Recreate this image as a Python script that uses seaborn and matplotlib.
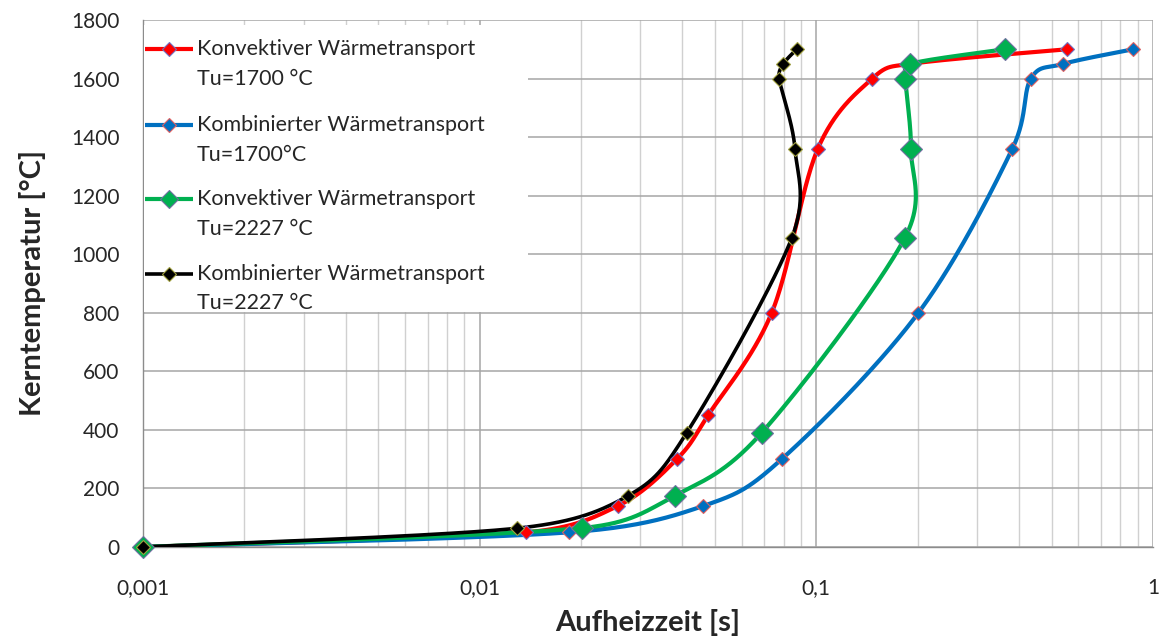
import numpy as np
import pandas as pd
import matplotlib
matplotlib.use("Agg")
import matplotlib.pyplot as plt
import seaborn as sns
from matplotlib.lines import Line2D
from matplotlib.patches import Rectangle
from matplotlib.ticker import FixedLocator, LogLocator, NullFormatter

# ---- data ----
labels_line1 = ["Konvektiver Wärmetransport", "Kombinierter Wärmetransport",
                "Konvektiver Wärmetransport", "Kombinierter Wärmetransport"]
labels_line2 = ["Tu=1700 °C", "Tu=1700°C", "Tu=2227 °C", "Tu=2227 °C"]

red_t = [0.001, 0.0137, 0.0257, 0.0385, 0.0477, 0.0737, 0.101, 0.1466, 0.19, 0.556]
red_T = [0, 50, 140, 300, 450, 800, 1360, 1600, 1650, 1700]

blue_t = [0.001, 0.0184, 0.0461, 0.0789, 0.201, 0.382, 0.434, 0.541, 0.873]
blue_T = [0, 50, 140, 300, 800, 1360, 1600, 1650, 1700]

green_t = [0.001, 0.0202, 0.038, 0.0688, 0.183, 0.191, 0.184, 0.190, 0.363]
green_T = [0, 65, 175, 390, 1055, 1360, 1600, 1650, 1700]

black_t = [0.001, 0.0129, 0.0275, 0.0412, 0.0845, 0.0864, 0.0776, 0.0798, 0.0874]
black_T = [0, 64, 174, 390, 1055, 1360, 1600, 1650, 1700]

x_ticks = [0.001, 0.01, 0.1, 1]
x_ticklabels = ["0,001", "0,01", "0,1", "1"]
y_ticks = list(range(0, 1801, 200))

colors = ["#FF0000", "#0070C0", "#00B050", "#000000"]
edge_colors = ["#7070C0", "#E06060", "#7070A0", "#A0A040"]
line_widths = [3.0, 3.0, 3.0, 2.6]
marker_sizes = [7.5, 7.5, 11.5, 7]

series = [(red_t, red_T), (blue_t, blue_T), (green_t, green_T), (black_t, black_T)]

# ---- figure geometry (pixels) ----
W, H = 1163, 641
AX_L, AX_R, AX_T, AX_B = 143, 1153, 20, 547

# ---- smoothed line (Catmull-Rom style Bezier, control arms clamped) ----
SX = (AX_R - AX_L) / 3.0          # px per decade
SY = (AX_B - AX_T) / 1800.0       # px per degree

def smooth(t, T, n=50):
    P = np.column_stack([np.log10(np.asarray(t, float)) * SX, np.asarray(T, float) * SY])
    m = len(P)
    tang = np.zeros_like(P)
    for i in range(m):
        a = P[max(i - 1, 0)]
        b = P[min(i + 1, m - 1)]
        tang[i] = (b - a) / 6.0
    out = []
    for i in range(m - 1):
        p1, p2 = P[i], P[i + 1]
        L = np.hypot(*(p2 - p1))
        t1, t2 = tang[i].copy(), tang[i + 1].copy()
        for tv in (t1, t2):
            nl = np.hypot(*tv)
            if nl > 0.5 * L:
                tv *= 0.5 * L / nl
        c1 = p1 + t1
        c2 = p2 - t2
        s = np.linspace(0, 1, n)[:, None]
        seg = ((1 - s) ** 3) * p1 + 3 * ((1 - s) ** 2) * s * c1 + 3 * (1 - s) * s ** 2 * c2 + s ** 3 * p2
        out.append(seg if i == 0 else seg[1:])
    out = np.vstack(out)
    return 10 ** (out[:, 0] / SX), out[:, 1] / SY

sns.set_style("white")
plt.rcParams['font.family'] = ['Lato', 'DejaVu Sans']

fig = plt.figure(figsize=(W / 100, H / 100), dpi=100)
ax = fig.add_axes([AX_L / W, (H - AX_B) / H, (AX_R - AX_L) / W, (AX_B - AX_T) / H])

ax.set_xscale("log")
ax.set_xlim(0.001, 1)
ax.set_ylim(0, 1800)

# grid
ax.xaxis.set_major_locator(FixedLocator(x_ticks))
ax.xaxis.set_minor_locator(LogLocator(base=10, subs=np.arange(2, 10)))
ax.xaxis.set_minor_formatter(NullFormatter())
ax.set_xticklabels(x_ticklabels)
ax.set_yticks(y_ticks)
ax.grid(which="major", color="#A6A6A6", linewidth=1.1)
ax.grid(which="minor", axis="x", color="#D0D0D0", linewidth=1.0)
ax.set_axisbelow(True)

for (t, T), c, ec, lw, ms in zip(series, colors, edge_colors, line_widths, marker_sizes):
    xs, ys = smooth(t, T)
    df = pd.DataFrame({"t": xs, "T": ys})
    sns.lineplot(data=df, x="t", y="T", sort=False, color=c, linewidth=lw, ax=ax,
                 estimator=None, zorder=3)
    ax.plot(t, T, linestyle="none", marker="D", markersize=ms, color=c,
            markeredgecolor=ec, markeredgewidth=0.8, zorder=4, clip_on=False)

for s in ["top", "right"]:
    ax.spines[s].set_visible(False)
for s in ["left", "bottom"]:
    ax.spines[s].set_color("#8C8C8C")
    ax.spines[s].set_linewidth(1.0)

ax.tick_params(axis="x", which="major", direction="out", length=5.5, color="#8C8C8C",
               pad=17, labelsize=15)
ax.tick_params(axis="x", which="minor", length=0)
ax.tick_params(axis="y", which="major", length=0, pad=17, labelsize=15)

ax.set_xlabel("Aufheizzeit [s]", fontsize=21, fontweight="bold", labelpad=8)
ax.set_ylabel("Kerntemperatur [°C]", fontsize=21, fontweight="bold", labelpad=18)

# ---- legend (white box in the upper left, handle on the first text line) ----
def axc(px, py):
    return ((px - AX_L) / (AX_R - AX_L), (AX_B - py) / (AX_B - AX_T))

x0, y0 = axc(144, 312)
x1, y1 = axc(528, 25)
ax.add_patch(Rectangle((x0, y0), x1 - x0, y1 - y0, transform=ax.transAxes,
                       facecolor="white", edgecolor="none", zorder=5))
row1 = [49, 125, 199, 274]
row2 = [79, 155, 229, 303]
leg_ms = [7, 7, 9.5, 7]
for i in range(4):
    hx0, hy = axc(145, row1[i])
    hx1, _ = axc(193, row1[i])
    hxm, _ = axc(169, row1[i])
    ax.add_line(Line2D([hx0, hx1], [hy, hy], transform=ax.transAxes, color=colors[i],
                       linewidth=line_widths[i], zorder=6, solid_capstyle="butt"))
    ax.add_line(Line2D([hxm], [hy], transform=ax.transAxes, color=colors[i], marker="D",
                       markersize=leg_ms[i], markeredgecolor=edge_colors[i],
                       markeredgewidth=0.8, zorder=7))
    tx, ty1 = axc(197, row1[i])
    _, ty2 = axc(197, row2[i])
    ax.text(tx, ty1, labels_line1[i], transform=ax.transAxes, ha="left", va="center",
            fontsize=15.5, zorder=7)
    ax.text(tx, ty2, labels_line2[i], transform=ax.transAxes, ha="left", va="center",
            fontsize=15.5, zorder=7)

fig.savefig("out.png", dpi=100)
